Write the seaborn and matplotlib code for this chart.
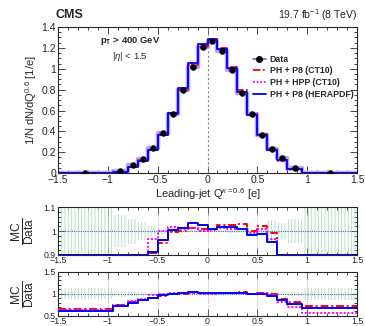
import matplotlib

matplotlib.use("Agg")
import matplotlib.pyplot as plt
import numpy as np
import seaborn as sns
from matplotlib.lines import Line2D
from matplotlib.ticker import MultipleLocator

# binning and values
edges = [-1.5, -0.95, -0.8, -0.7, -0.6, -0.5, -0.4, -0.3, -0.2, -0.1, 0.0,
         0.1, 0.2, 0.3, 0.4, 0.5, 0.6, 0.7, 0.8, 0.95, 1.5]
data = [0.003, 0.02, 0.075, 0.14, 0.24, 0.38, 0.57, 0.80, 1.02, 1.205,
        1.27, 1.17, 0.99, 0.77, 0.565, 0.37, 0.23, 0.145, 0.045, 0.003]
ratio_p8_ct10 = [0.66, 0.74, 0.81, 0.865, 0.908, 0.95, 0.997, 1.0, 1.014, 1.01,
                 1.007, 1.024, 1.024, 1.03, 1.0, 1.02, 0.993, 0.88, 0.81, 0.72]
ratio_hpp_ct10 = [0.64, 0.74, 0.84, 0.88, 0.965, 1.0, 1.018, 1.007, 1.014, 1.0,
                  1.004, 1.014, 1.01, 1.007, 0.993, 1.007, 0.965, 0.82, 0.70, 0.57]
ratio_p8_hera = [0.62, 0.72, 0.80, 0.85, 0.914, 0.962, 1.004, 1.015, 1.035, 1.024,
                 1.01, 1.018, 1.017, 1.011, 0.983, 0.989, 0.955, 0.86, 0.77, 0.68]
unc = [0.13, 0.068, 0.052, 0.037, 0.022, 0.012, 0.008, 0.006, 0.005, 0.005,
       0.005, 0.005, 0.006, 0.008, 0.012, 0.015, 0.045, 0.035, 0.05, 0.14]

sns.set_theme(style="ticks")
plt.rcParams["font.family"] = ["Liberation Sans", "DejaVu Sans"]
plt.rcParams["mathtext.fontset"] = "custom"
plt.rcParams["mathtext.rm"] = "Liberation Sans"
plt.rcParams["mathtext.it"] = "Liberation Sans:italic"
plt.rcParams["mathtext.bf"] = "Liberation Sans:bold"
plt.rcParams["hatch.linewidth"] = 0.6

edges = np.array(edges)
centers = 0.5 * (edges[:-1] + edges[1:])
data = np.array(data)
unc = np.array(unc)

models = [
    ("PH + P8 (CT10)", np.array(ratio_p8_ct10), "#ff0000", (0, (4, 1.5, 1, 1.5))),
    ("PH + HPP (CT10)", np.array(ratio_hpp_ct10), "#ff00ff", (0, (1, 1))),
    ("PH + P8 (HERAPDF)", np.array(ratio_p8_hera), "#0000ff", "-"),
]
band_col = "#a8dcbc"
xticks = [-1.5, -1, -0.5, 0, 0.5, 1, 1.5]
xticklabels = ["\u22121.5", "\u22121", "\u22120.5", "0", "0.5", "1", "1.5"]

fig = plt.figure(figsize=(3.65, 3.26), dpi=100)
ax = fig.add_axes([0.159, 0.469, 0.819, 0.448])
ax_r1 = fig.add_axes([0.159, 0.218, 0.819, 0.146])
ax_r2 = fig.add_axes([0.159, 0.031, 0.819, 0.136])


def step_hist(a, values, **kw):
    # histogram outline from bin edges, drawn as a post-step line
    sns.lineplot(x=edges, y=np.append(values, values[-1]), drawstyle="steps-post",
                 ax=a, **kw)


def root_ticks(a, xmaj, xmin, ymaj, ymin, size):
    a.xaxis.set_major_locator(MultipleLocator(xmaj))
    a.xaxis.set_minor_locator(MultipleLocator(xmin))
    a.yaxis.set_major_locator(MultipleLocator(ymaj))
    a.yaxis.set_minor_locator(MultipleLocator(ymin))
    a.tick_params(which="both", direction="in", top=True, right=True, labelsize=size, pad=1.5)
    a.tick_params(which="major", length=5, width=0.6)
    a.tick_params(which="minor", length=2.5, width=0.6)
    for s in a.spines.values():
        s.set_linewidth(0.8)


# main panel
ax.axvline(0, color="#888888", ls=(0, (2, 2)), lw=0.8, zorder=1)
step_hist(ax, data, color="#b0a8f0", linewidth=3.2, zorder=2)
for name, r, col, ls in models:
    step_hist(ax, data * r, color=col, linestyle=ls, linewidth=1.3, zorder=3)
ax.errorbar(centers, data, yerr=data * unc, fmt="none", ecolor="black", elinewidth=0.8, zorder=4)
sns.scatterplot(x=centers, y=data, color="black", s=18, edgecolor="black", ax=ax, zorder=5)
ax.set_xlim(-1.5, 1.5)
ax.set_ylim(0, 1.4)
root_ticks(ax, 0.5, 0.1, 0.2, 0.05, 7.5)
ax.set_yticks([0, 0.2, 0.4, 0.6, 0.8, 1.0, 1.2, 1.4])
ax.set_yticklabels(["0", "0.2", "0.4", "0.6", "0.8", "1", "1.2", "1.4"])
ax.set_xticks(xticks)
ax.set_xticklabels(xticklabels)
ax.set_xlabel(r"Leading-jet Q$^{\kappa=0.6}$ [e]", fontsize=8, labelpad=1)
ax.set_ylabel(r"1/N dN/dQ$^{0.6}$ [1/e]", fontsize=8, labelpad=2)

ax.text(0.24, 0.905, r"p$_\mathbf{T}$ > 400 GeV", transform=ax.transAxes, ha="center",
        va="center", fontsize=6.8, fontweight="bold")
ax.text(0.24, 0.80, r"|$\eta$| < 1.5", transform=ax.transAxes, ha="center",
        va="center", fontsize=6.8)

handles = [Line2D([], [], color="#6a5fd8", lw=1.2, marker="o", ms=4,
                  markerfacecolor="black", markeredgecolor="black")]
handles += [Line2D([], [], color=col, ls=ls, lw=1.3) for _, _, col, ls in models]
labels = ["Data"] + [m[0] for m in models]
leg = ax.legend(handles, labels, loc="upper left", bbox_to_anchor=(0.651, 0.81),
                frameon=False, fontsize=6.3, handlelength=1.5, handletextpad=0.45,
                labelspacing=0.3, borderpad=0, borderaxespad=0)
for t in leg.get_texts():
    t.set_fontweight("bold")

fig.text(0.151, 0.953, "CMS", fontsize=9, fontweight="bold", ha="left", va="center")
fig.text(0.978, 0.953, r"19.7 fb$^{-1}$ (8 TeV)", fontsize=7.5, ha="right", va="center")

# ratio panels
for a, lo, hi, ymaj, ymin, labs in [
    (ax_r1, 0.9, 1.1, 0.1, 0.02, ["0.9", "1", "1.1"]),
    (ax_r2, 0.5, 1.5, 0.5, 0.1, ["0.5", "1", "1.5"]),
]:
    a.fill_between(edges, np.append(1 - unc, 1 - unc[-1]), np.append(1 + unc, 1 + unc[-1]),
                   step="post", facecolor="none", edgecolor=band_col, hatch="|||||",
                   linewidth=0, zorder=1)
    for gx in [-1, -0.5, 0, 0.5, 1]:
        a.axvline(gx, color="#999999", ls=(0, (1, 1.5)), lw=0.6, zorder=1)
    a.axhline(1, color="#5060c0", ls=(0, (1, 1)), lw=0.8, zorder=2)
    for name, r, col, ls in models:
        # out-of-range bins are drawn along the frame, as ROOT does
        step_hist(a, np.clip(r, lo + 0.003 * (hi - lo), hi), color=col, linestyle=ls,
                  linewidth=1.4, zorder=3)
    a.set_xlim(-1.5, 1.5)
    a.set_ylim(lo, hi)
    root_ticks(a, 0.5, 0.1, ymaj, ymin, 6.3)
    a.set_yticks([lo, 1.0, hi])
    a.set_yticklabels(labs)
    a.set_xticks(xticks)
    a.set_xticklabels(xticklabels)
    a.tick_params(axis="x", pad=0.5)
    a.set_xlabel("")
    a.set_ylabel(r"$\frac{\mathrm{MC}}{\mathrm{Data}}$", fontsize=12.5)
    a.yaxis.set_label_coords(-0.072, 0.5)

fig.savefig("out.png", dpi=100)
plt.close(fig)
